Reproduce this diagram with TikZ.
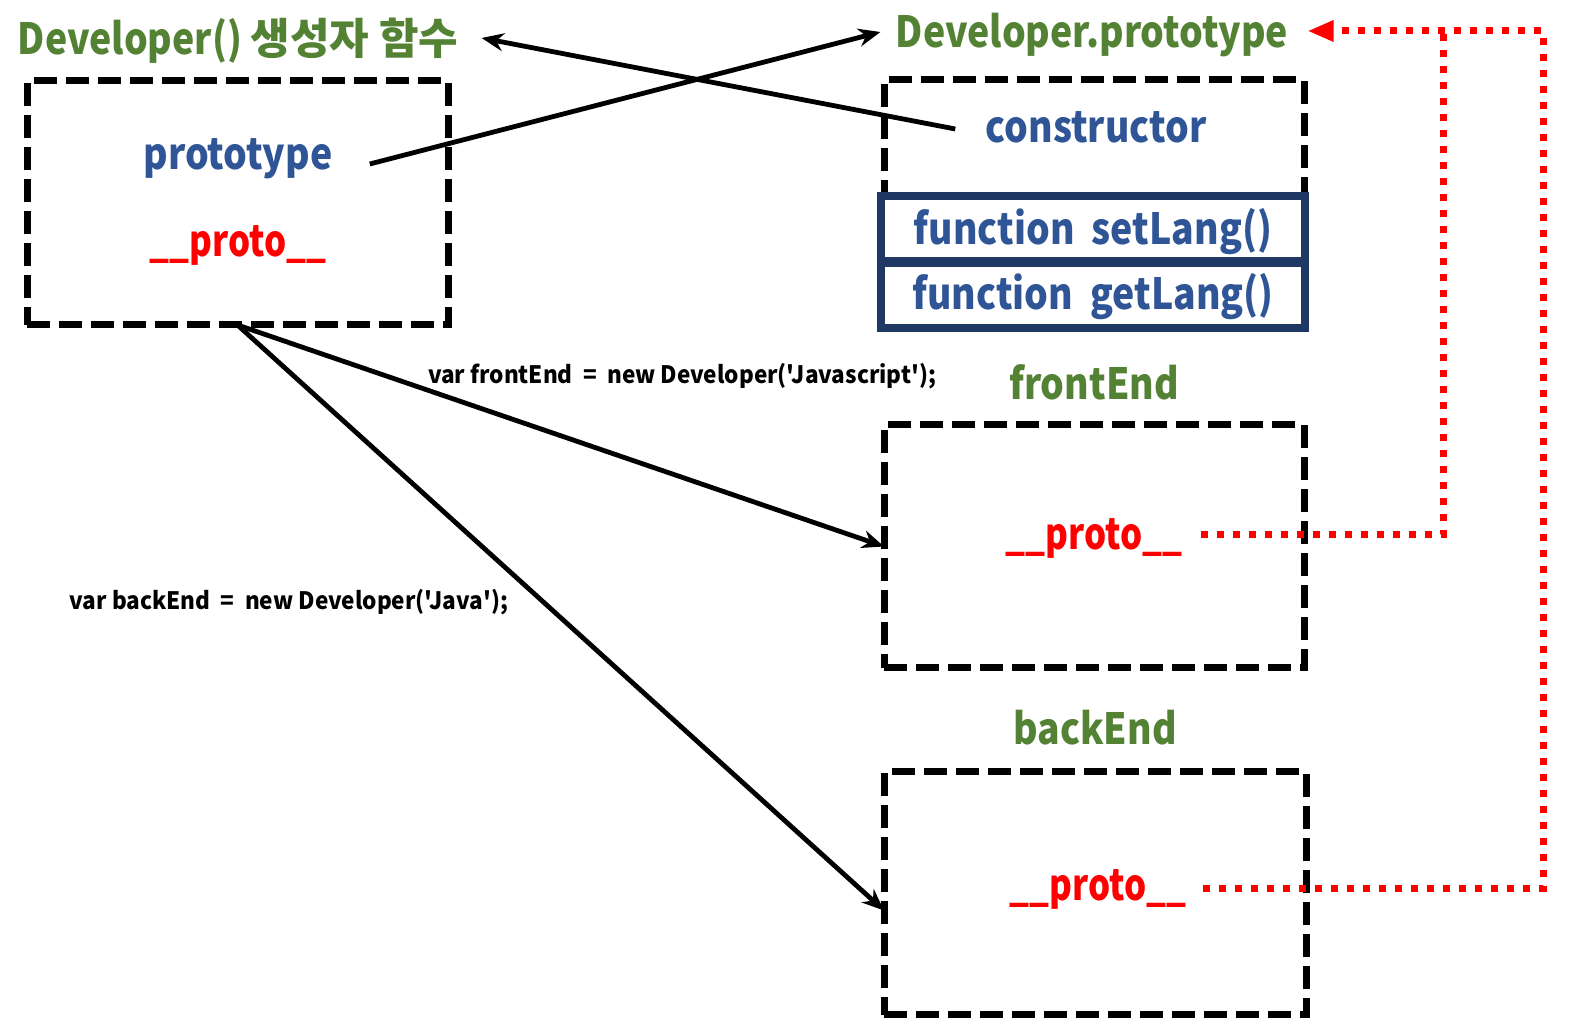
\documentclass[tikz,border=0pt]{standalone}
\usepackage{fontspec}
\setmainfont{Noto Sans CJK KR}
\newfontfamily\kc{Noto Sans CJK KR}[FakeStretch=0.87]
\newfontfamily\kp{Noto Sans CJK KR}[FakeStretch=0.81]
\newfontfamily\kl{Noto Sans CJK KR}[FakeStretch=0.94]
\usetikzlibrary{arrows.meta,calc}
\definecolor{tgreen}{HTML}{548235}
\definecolor{tblue}{HTML}{2F5597}
\definecolor{tred}{HTML}{FF0000}
\definecolor{tnavy}{HTML}{203864}
\tikzset{
  dbox/.style={draw=black, line width=3.5pt, dash pattern=on 11.5pt off 4.5pt, inner sep=0pt, outer sep=0pt},
  nbox/.style={draw=tnavy, line width=4pt, inner sep=0pt, outer sep=0pt, minimum width=212pt, minimum height=33.5pt},
  big/.style={font=\fontsize{21.5}{24}\selectfont\kc\bfseries, inner sep=0pt},
  bigp/.style={font=\fontsize{21.5}{24}\selectfont\kp\bfseries, inner sep=0pt, text=tred},
  small/.style={font=\fontsize{12}{14}\selectfont\kl\bfseries, inner sep=0pt, text=black},
  arr/.style={draw=black, line width=2.4pt, -{Stealth[length=11pt,width=9pt]}},
  reddot/.style={draw=tred, line width=3.5pt, dash pattern=on 3.5pt off 4.5pt},
}
\begin{document}
\begin{tikzpicture}[x=0.5pt,y=-0.5pt]
\useasboundingbox[fill=white] (0,0) rectangle (1576,1036);
% titles
\node[big, text=tgreen] (t1) at (238,41) {Developer() {\fontspec{Noto Sans CJK KR}\bfseries 생성자 함수}};
\node[big, text=tgreen] (t2) at (1092,35) {Developer.prototype};
% constructor function box
\node[dbox, minimum width=210.5pt, minimum height=122pt] (box1) at (237.5,203) {};
\node[big, text=tblue] (ptype) at (238,159) {prototype};
\node[bigp] (p1) at (238,245) {\_\_proto\_\_};
% prototype object box
\node[dbox, minimum width=210pt, minimum height=58pt] (box2) at (1094,138) {};
\node[big, text=tblue] (ctor) at (1096,127) {constructor};
\node[nbox] (set) at (1093,229.5) {};
\node[nbox] (get) at (1093,294.5) {};
\node[big, text=tblue] at ([yshift=-1pt]set.center) {function\ \ setLang()};
\node[big, text=tblue] at ([yshift=-1pt]get.center) {function\ \ getLang()};
% frontEnd
\node[big, text=tgreen] (fname) at (1094,382) {frontEnd};
\node[dbox, minimum width=210pt, minimum height=121.5pt] (box3) at (1094,546.5) {};
\node[bigp] (fp) at (1094,538) {\_\_proto\_\_};
% backEnd
\node[big, text=tgreen] (bname) at (1095,728) {backEnd};
\node[dbox, minimum width=211pt, minimum height=121.5pt] (box4) at (1095,893.5) {};
\node[bigp] (bp) at (1098,889) {\_\_proto\_\_};
% code labels
\node[small] (lf) at (682,376) {var frontEnd\ \ =\ \ new Developer('Javascript');};
\node[small] (lb) at (289,602) {var backEnd\ \ =\ \ new Developer('Java');};
% black connectors
\draw[arr] ([xshift=18.5pt,yshift=-2.5pt]ptype.east) -- ([xshift=-7.5pt,yshift=1.5pt]t2.west);
\draw[arr] ([xshift=-15pt,yshift=-1pt]ctor.west) -- ([xshift=11.5pt,yshift=1.5pt]t1.east);
\draw[arr] (box1.south) -- (box3.west);
\draw[arr] (box1.south) -- ($(box4.west)+(0,17)$);
% red dotted connectors
\coordinate (fc) at (1443,535);
\coordinate (ftop) at (1443,31);
\coordinate (bc) at (1543,889);
\coordinate (btop) at (1543,31);
\draw[reddot] ([xshift=9pt,yshift=1.5pt]fp.east) -- (fc) -- (ftop);
\draw[reddot] ([xshift=8pt]bp.east) -- (bc) -- (btop) -- ([xshift=18pt,yshift=2pt]t2.east);
\fill[tred] ([xshift=10pt,yshift=2pt]t2.east) -- ++(25,-11) -- ++(0,22) -- cycle;
\end{tikzpicture}
\end{document}
